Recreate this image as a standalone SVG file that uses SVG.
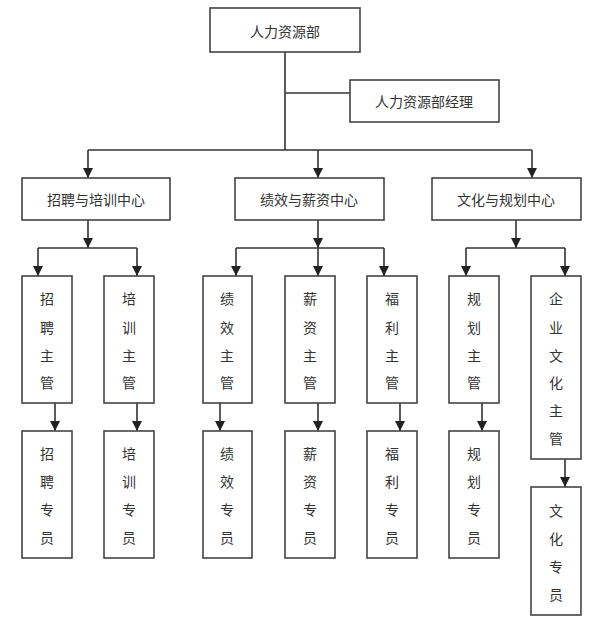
<svg xmlns="http://www.w3.org/2000/svg" width="607" height="630" viewBox="0 0 607 630">
<defs>
<marker id="a" markerWidth="8" markerHeight="8" refX="4" refY="7" orient="auto" markerUnits="userSpaceOnUse" viewBox="0 0 8 8"><path d="M0,0 L8,0 L4,8 Z" fill="#222" transform="rotate(-90 4 4)"/></marker>
<marker id="d" markerWidth="10" markerHeight="10" refX="10" refY="5" orient="auto" markerUnits="userSpaceOnUse" viewBox="0 0 10 10"><path d="M0,0 L10,5 L0,10 Z" fill="#222"/></marker>
<style>
rect{fill:#fff;stroke:#444;stroke-width:1.6}
text{font-family:"Noto Sans CJK SC","Liberation Serif",serif;font-size:14px;fill:#333;text-anchor:middle;dominant-baseline:central}
.c path,.c line{stroke:#333;stroke-width:1.6;fill:none}
</style>
</defs>
<g class="c" id="connectors">
<line x1="285" y1="52" x2="285" y2="150"/>
<line x1="285" y1="93" x2="350" y2="93"/>
<line x1="88" y1="150" x2="532" y2="150"/>
<line x1="88" y1="150" x2="88" y2="178" marker-end="url(#d)"/>
<line x1="318" y1="150" x2="318" y2="178" marker-end="url(#d)"/>
<line x1="532" y1="150" x2="532" y2="178" marker-end="url(#d)"/>
<line x1="88" y1="220" x2="88" y2="248" marker-end="url(#d)"/>
<line x1="318" y1="220" x2="318" y2="248" marker-end="url(#d)"/>
<line x1="516" y1="220" x2="516" y2="248" marker-end="url(#d)"/>
<line x1="38" y1="248" x2="137" y2="248"/>
<line x1="236" y1="248" x2="384" y2="248"/>
<line x1="466" y1="248" x2="565" y2="248"/>
<line x1="38" y1="248" x2="38" y2="276" marker-end="url(#d)"/>
<line x1="137" y1="248" x2="137" y2="276" marker-end="url(#d)"/>
<line x1="236" y1="248" x2="236" y2="276" marker-end="url(#d)"/>
<line x1="318" y1="248" x2="318" y2="276" marker-end="url(#d)"/>
<line x1="384" y1="248" x2="384" y2="276" marker-end="url(#d)"/>
<line x1="466" y1="248" x2="466" y2="276" marker-end="url(#d)"/>
<line x1="565" y1="248" x2="565" y2="276" marker-end="url(#d)"/>
<line x1="55" y1="403" x2="55" y2="431" marker-end="url(#d)"/>
<line x1="137" y1="403" x2="137" y2="431" marker-end="url(#d)"/>
<line x1="220" y1="403" x2="220" y2="431" marker-end="url(#d)"/>
<line x1="318" y1="403" x2="318" y2="431" marker-end="url(#d)"/>
<line x1="400" y1="403" x2="400" y2="431" marker-end="url(#d)"/>
<line x1="482" y1="403" x2="482" y2="431" marker-end="url(#d)"/>
<line x1="565" y1="459" x2="565" y2="487" marker-end="url(#d)"/>
</g>
<g id="hr"><rect x="210" y="8" width="150" height="44"/><text x="285" y="31">人力资源部</text></g>
<g id="mgr"><rect x="350" y="80" width="149" height="42"/><text x="424" y="101">人力资源部经理</text></g>
<g id="c1"><rect x="22" y="178" width="148" height="42"/><text x="96" y="199">招聘与培训中心</text></g>
<g id="c2"><rect x="235" y="178" width="149" height="42"/><text x="309" y="199">绩效与薪资中心</text></g>
<g id="c3"><rect x="432" y="178" width="149" height="42"/><text x="506" y="199">文化与规划中心</text></g>
<g id="s1"><rect x="22" y="276" width="50" height="127"/><text x="47" y="298">招</text><text x="47" y="327">聘</text><text x="47" y="355">主</text><text x="47" y="382">管</text></g>
<g id="s2"><rect x="104" y="276" width="50" height="127"/><text x="129" y="298">培</text><text x="129" y="327">训</text><text x="129" y="355">主</text><text x="129" y="382">管</text></g>
<g id="s3"><rect x="203" y="276" width="49" height="127"/><text x="227" y="298">绩</text><text x="227" y="327">效</text><text x="227" y="355">主</text><text x="227" y="382">管</text></g>
<g id="s4"><rect x="285" y="276" width="50" height="127"/><text x="310" y="298">薪</text><text x="310" y="327">资</text><text x="310" y="355">主</text><text x="310" y="382">管</text></g>
<g id="s5"><rect x="367" y="276" width="50" height="127"/><text x="392" y="298">福</text><text x="392" y="327">利</text><text x="392" y="355">主</text><text x="392" y="382">管</text></g>
<g id="s6"><rect x="449" y="276" width="50" height="127"/><text x="474" y="298">规</text><text x="474" y="327">划</text><text x="474" y="355">主</text><text x="474" y="382">管</text></g>
<g id="s7"><rect x="531" y="276" width="50" height="183"/><text x="556" y="298">企</text><text x="556" y="327">业</text><text x="556" y="355">文</text><text x="556" y="382">化</text><text x="556" y="410">主</text><text x="556" y="438">管</text></g>
<g id="p1"><rect x="22" y="431" width="50" height="127"/><text x="47" y="453">招</text><text x="47" y="481">聘</text><text x="47" y="509">专</text><text x="47" y="537">员</text></g>
<g id="p2"><rect x="104" y="431" width="50" height="127"/><text x="129" y="453">培</text><text x="129" y="481">训</text><text x="129" y="509">专</text><text x="129" y="537">员</text></g>
<g id="p3"><rect x="203" y="431" width="49" height="127"/><text x="227" y="453">绩</text><text x="227" y="481">效</text><text x="227" y="509">专</text><text x="227" y="537">员</text></g>
<g id="p4"><rect x="285" y="431" width="50" height="127"/><text x="310" y="453">薪</text><text x="310" y="481">资</text><text x="310" y="509">专</text><text x="310" y="537">员</text></g>
<g id="p5"><rect x="367" y="431" width="50" height="127"/><text x="392" y="453">福</text><text x="392" y="481">利</text><text x="392" y="509">专</text><text x="392" y="537">员</text></g>
<g id="p6"><rect x="449" y="431" width="50" height="127"/><text x="474" y="453">规</text><text x="474" y="481">划</text><text x="474" y="509">专</text><text x="474" y="537">员</text></g>
<g id="p7"><rect x="531" y="487" width="50" height="128"/><text x="556" y="510">文</text><text x="556" y="538">化</text><text x="556" y="566">专</text><text x="556" y="594">员</text></g>
</svg>
